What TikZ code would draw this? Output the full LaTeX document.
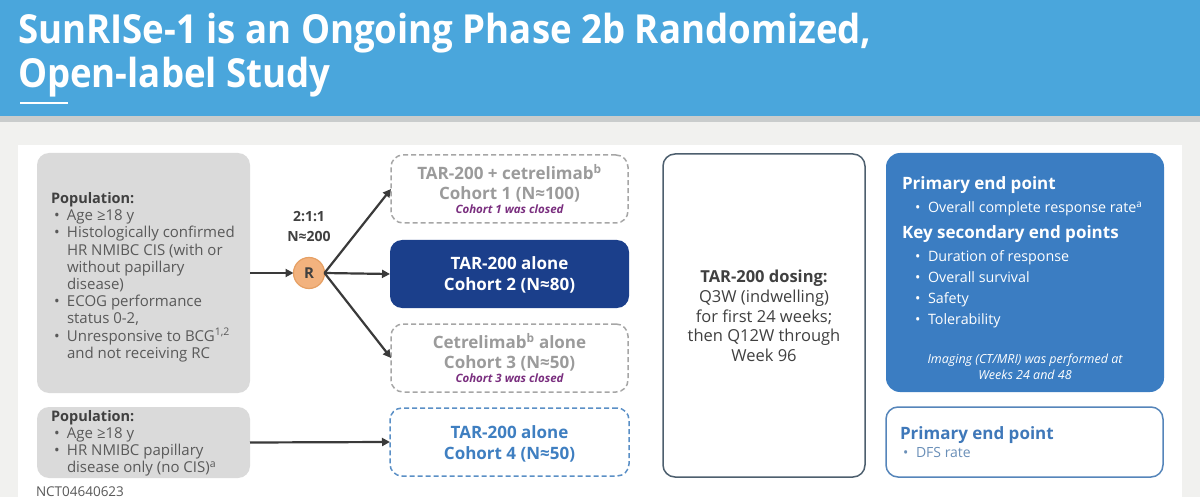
\documentclass[tikz,border=0pt]{standalone}
\usepackage{fontspec}
\setmainfont{Open Sans}
\newfontfamily\titlefont[FakeStretch=0.915]{Open Sans}
\usetikzlibrary{arrows.meta}
\definecolor{headblue}{HTML}{4AA6DC}
\definecolor{stripgray}{HTML}{C9CCCC}
\definecolor{bggray}{HTML}{F1F1EF}
\definecolor{popgray}{HTML}{DADADA}
\definecolor{poptext}{HTML}{595959}
\definecolor{popdark}{HTML}{404040}
\definecolor{rfill}{HTML}{F2B27E}
\definecolor{rdraw}{HTML}{E6A064}
\definecolor{closedgray}{HTML}{9B9B9B}
\definecolor{dashgray}{HTML}{A6A6A6}
\definecolor{closedpurple}{HTML}{7A2F7F}
\definecolor{navy}{HTML}{1B3F8B}
\definecolor{cblue}{HTML}{3F7FC1}
\definecolor{cdash}{HTML}{5A8FC6}
\definecolor{dosedraw}{HTML}{4D5F6E}
\definecolor{epfill}{HTML}{3B7DC2}
\definecolor{dfsdraw}{HTML}{5585BA}
\definecolor{dfstitle}{HTML}{3F78B9}
\definecolor{dfstext}{HTML}{6A8FB8}
\definecolor{arrowgray}{HTML}{3A3A3A}
\newcommand{\mybul}{\hspace*{3pt}\makebox[13pt][l]{•}}
\newcommand{\myind}{\hspace*{16pt}}
\newcommand{\sq}[1]{\textsuperscript{#1}}
\newcommand{\pophead}{{\color{popdark}\bfseries\fontsize{14.5}{17.2}\selectfont Population:}}
\tikzset{
  every node/.style={inner sep=0pt, outer sep=0pt},
  popbox/.style={fill=popgray, rounded corners=12pt, anchor=north west},
  poptxt/.style={anchor=north west, align=left, text=poptext, font=\fontsize{15}{17.2}\selectfont},
  closedbox/.style={draw=dashgray, line width=1.5pt, dash pattern=on 5pt off 3pt, rounded corners=12pt, anchor=north west, minimum width=237pt, minimum height=68pt},
  closedtxt/.style={align=center, text=closedgray, font=\bfseries\fontsize{17}{20}\selectfont},
  closednote/.style={text=closedpurple, font=\bfseries\itshape\fontsize{11.5}{13}\selectfont},
  arr/.style={draw=arrowgray, line width=2.2pt, -{Triangle[length=8pt,width=8pt]}},
  ephead/.style={anchor=base west, font=\bfseries\fontsize{17}{20}\selectfont},
}
\begin{document}
\begin{tikzpicture}[x=1pt,y=-1pt]
\useasboundingbox (0,0) rectangle (1200,497);
\fill[bggray] (0,0) rectangle (1200,497);
\fill[white] (18,145) rectangle (1182,497);
\fill[stripgray] (0,116) rectangle (1200,122);
\fill[headblue] (0,0) rectangle (1200,116);
\coordinate (ul1) at (20,103);
\coordinate (ul2) at (68,103);
\draw[white, line width=2.5pt] (ul1) -- (ul2);
\node[anchor=north west, align=left, text=white, font={\titlefont\bfseries\fontsize{40}{44}\selectfont}] (title) at (18,13) {SunRISe-1 is an Ongoing Phase 2b Randomized,\\Open-label Study};

% population boxes
\node[popbox, minimum width=213pt, minimum height=240pt] (pop1) at (37,153) {};
\node[poptxt] (pop1t) at (51,192.5) {\pophead\\
\mybul Age ≥18 y\\
\mybul Histologically confirmed\\
\myind HR NMIBC CIS (with or\\
\myind without papillary\\
\myind disease)\\
\mybul ECOG performance\\
\myind status 0-2,\\
\mybul Unresponsive to BCG\sq{1,2}\\
\myind and not receiving RC};
\node[popbox, minimum width=213pt, minimum height=71pt] (pop2) at (37,407) {};
\node[poptxt] (pop2t) at (51,410) {\pophead\\
\mybul Age ≥18 y\\
\mybul HR NMIBC papillary\\
\myind disease only (no CIS)\sq{a}};

% randomization
\node[circle, fill=rfill, draw=rdraw, line width=1.2pt, minimum size=31pt, text=popdark, font=\bfseries\fontsize{15}{17}\selectfont] (R) at (309,273) {R};
\node[align=center, text=popdark, font=\bfseries\fontsize{14}{19.5}\selectfont] (ratio) at (309,226.5) {2:1:1\\N≈200};

% cohorts
\node[closedbox] (c1) at (391,155) {};
\node[closedtxt] (c1t) at (509.5,183.5) {TAR-200 + cetrelimab\sq{b}\\Cohort 1 (N≈100)};
\node[closednote] (c1n) at (509.5,209.5) {Cohort 1 was closed};
\node[fill=navy, rounded corners=12pt, anchor=north west, minimum width=239pt, minimum height=68pt] (c2) at (390,240) {};
\node[align=center, text=white, font=\bfseries\fontsize{17}{21}\selectfont] (c2t) at (509.5,274.5) {TAR-200 alone\\Cohort 2 (N≈80)};
\node[closedbox] (c3) at (391,324) {};
\node[closedtxt] (c3t) at (509.5,352) {Cetrelimab\sq{b} alone\\Cohort 3 (N≈50)};
\node[closednote] (c3n) at (509.5,378.5) {Cohort 3 was closed};
\node[closedbox, draw=cdash, minimum width=239pt] (c4) at (390,408) {};
\node[align=center, text=cblue, font=\bfseries\fontsize{17}{21}\selectfont] (c4t) at (509.5,443.5) {TAR-200 alone\\Cohort 4 (N≈50)};

% arrows
\draw[arr] (pop1.east) -- (R.west);
\draw[arr] (R.east) -- (c1.west);
\draw[arr] (R.east) -- (c2.west);
\draw[arr] (R.east) -- (c3.west);
\draw[arr] (pop2.east) -- (c4.west);

% dosing
\node[draw=dosedraw, line width=1.5pt, rounded corners=12pt, anchor=north west, minimum width=202pt, minimum height=323pt] (dose) at (663,154) {};
\node[align=center, text=popdark, font=\fontsize{16.5}{19.6}\selectfont] (doset) at (764,316) {{\bfseries TAR-200 dosing:}\\Q3W (indwelling)\\for first 24 weeks;\\then Q12W through\\Week 96};

% endpoints
\node[fill=epfill, rounded corners=14pt, anchor=north west, minimum width=278pt, minimum height=239pt] (ep) at (886,153) {};
\node[ephead, text=white] (ep1h) at (902,190) {Primary end point};
\node[anchor=base west, text=white, font=\fontsize{14.3}{17}\selectfont] (ep1b) at (912,213) {\mybul Overall complete response rate\sq{a}};
\node[ephead, text=white] (ep2h) at (902,239) {Key secondary end points};
\node[anchor=north west, align=left, text=white, font=\fontsize{14.3}{21}\selectfont] (ep2l) at (912,251) {\mybul Duration of response\\\mybul Overall survival\\\mybul Safety\\\mybul Tolerability};
\node[align=center, text=white, font=\itshape\fontsize{12.5}{16}\selectfont] (epn) at (1025,366.5) {Imaging (CT/MRI) was performed at\\Weeks 24 and 48};

% DFS
\node[draw=dfsdraw, line width=1.5pt, rounded corners=12pt, anchor=north west, minimum width=277pt, minimum height=70pt] (dfs) at (886,407) {};
\node[ephead, text=dfstitle] (dfsh) at (900,439) {Primary end point};
\node[anchor=base west, text=dfstext, font=\fontsize{14}{17}\selectfont] (dfsb) at (900,457) {\hspace*{3pt}\makebox[13pt][l]{•}DFS rate};

\node[anchor=base west, text=poptext, font=\fontsize{13.5}{16}\selectfont] (nct) at (36,496) {NCT04640623};
\end{tikzpicture}
\end{document}
